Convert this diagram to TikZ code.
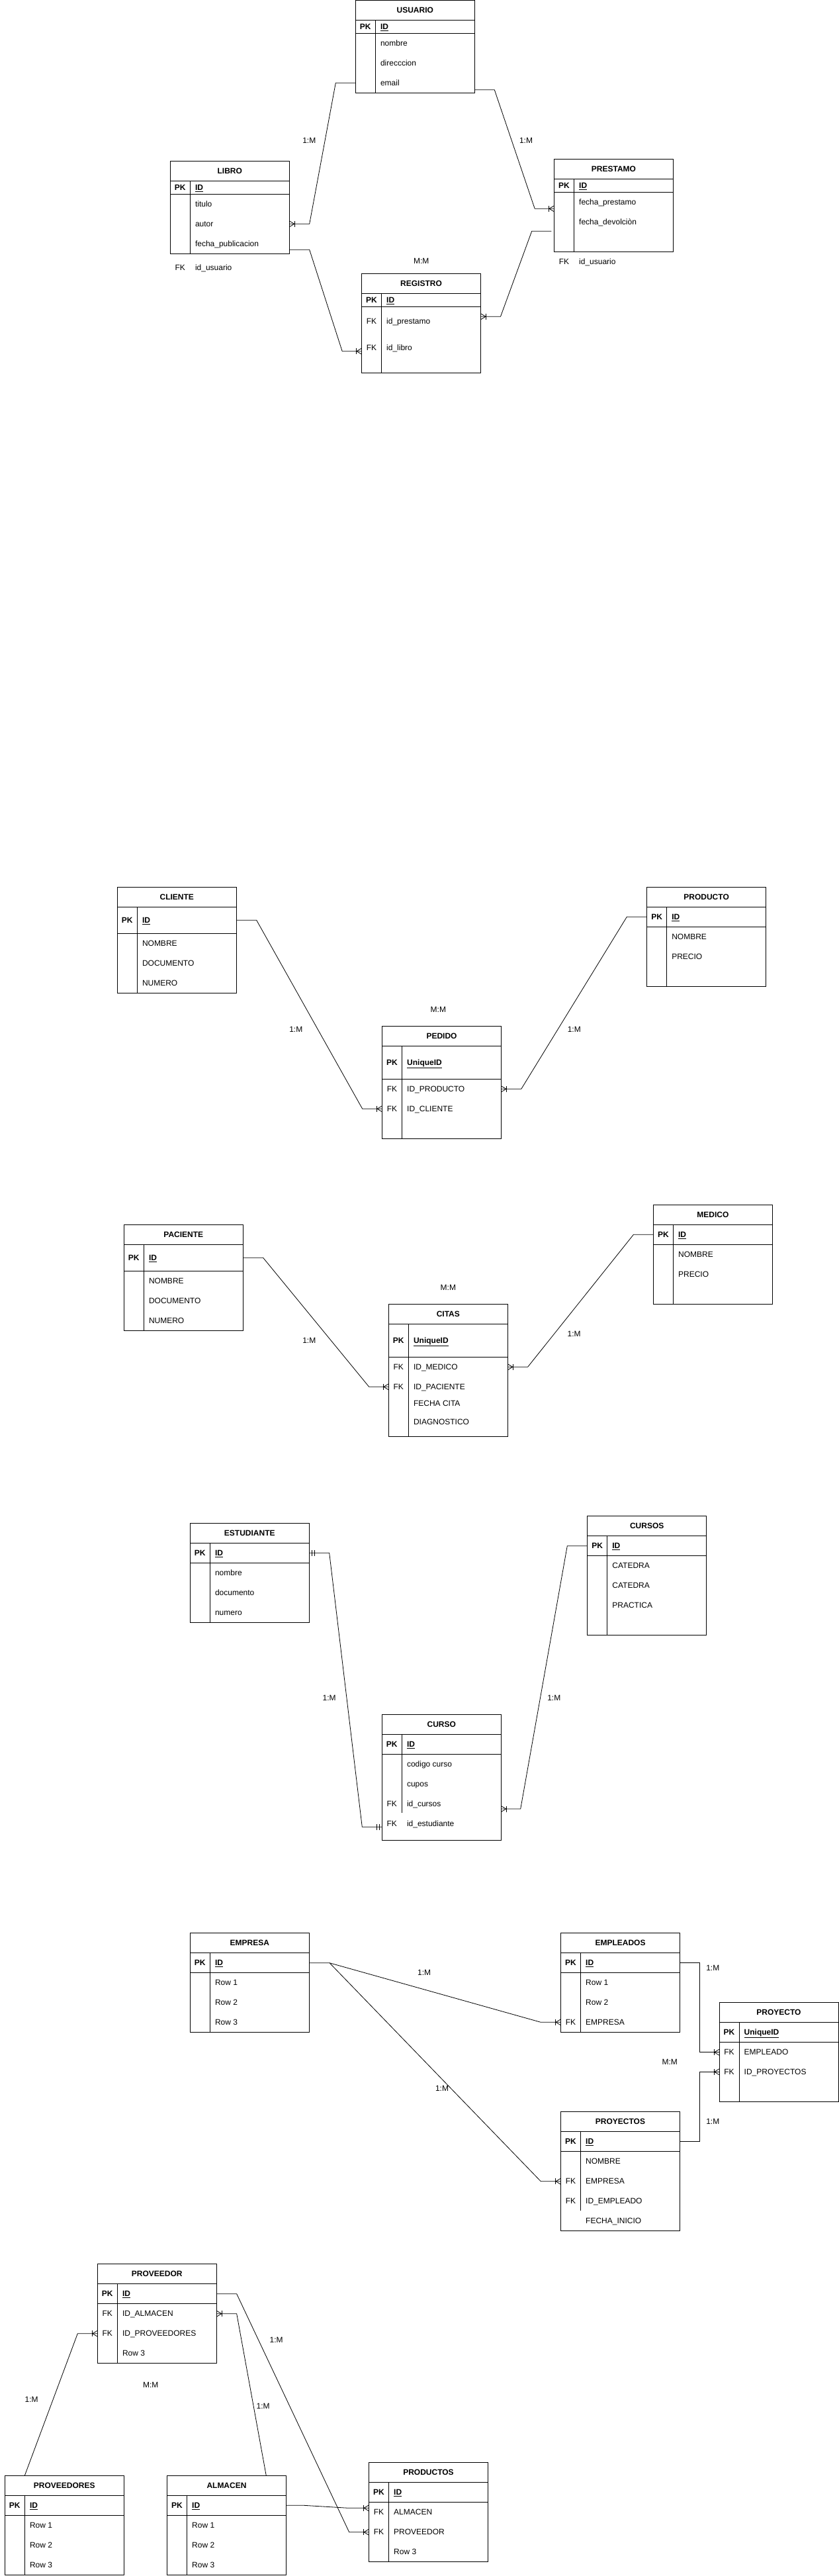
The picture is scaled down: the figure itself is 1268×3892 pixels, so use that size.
\documentclass[tikz,border=0pt]{standalone}
\usepackage{fontspec}
\setmainfont{Liberation Sans}
\newcounter{fc}
\newcommand{\ertab}[7]{%
  \node[tbox, minimum height=#4pt, anchor=north west] (#1) at (#2,#3) {};
  \draw[tline] (#2,#3+30) -- ++(180,0);
  \draw[tline] (#2,#3+30+#6) -- ++(180,0);
  \draw[tline] (#2+30,#3+30) -- (#2+30,#3+#7);
  \node[ttl] (#1-title) at (#2+90,#3+15) {#5};
}
\newcommand{\errow}[4]{%
  \stepcounter{fc}%
  \node[pkt] (k\arabic{fc}) at (#1+15,#2) {#3};
  \node[fld] (f\arabic{fc}) at (#1+37.5,#2) {#4};
}
\newcommand{\pkrow}[3]{\errow{#1}{#2}{\textbf{PK}}{\textbf{\underline{#3}}}}
\begin{document}
\begin{tikzpicture}[x=1pt,y=-1pt,
  tbox/.style={draw, line width=1pt, minimum width=180pt, inner sep=0pt, outer sep=0pt},
  tline/.style={line width=1pt},
  conn/.style={line width=0.8pt},
  txt/.style={inner sep=0pt, text height=8.6pt, text depth=0pt, font=\fontsize{12pt}{14pt}\selectfont},
  fld/.style={txt, anchor=west},
  pkt/.style={txt, anchor=center},
  lbl/.style={txt, anchor=center},
  ttl/.style={txt, anchor=center, font=\fontsize{12pt}{14pt}\selectfont\bfseries},
  crowL/.pic={\draw[conn] (0,-4.5) -- (7.5,0) -- (0,4.5); \draw[conn] (8,-4.5) -- (8,4.5);},
  crowR/.pic={\draw[conn] (0,-4.5) -- (-7.5,0) -- (0,4.5); \draw[conn] (-8,-4.5) -- (-8,4.5);},
  oneL/.pic={\draw[conn] (4,-4.5) -- (4,4.5); \draw[conn] (8,-4.5) -- (8,4.5);},
  oneR/.pic={\draw[conn] (-4,-4.5) -- (-4,4.5); \draw[conn] (-8,-4.5) -- (-8,4.5);}
]
\fill[white] (0,0) rectangle (1268,3892);
\useasboundingbox (0,0) rectangle (1268,3892);

% ================= Section 1 =================
\ertab{usuario}{537.3}{0.5}{140}{USUARIO}{20}{140}
\pkrow{537.3}{40.3}{ID}
\errow{537.3}{65.3}{}{nombre}
\errow{537.3}{95.3}{}{direcccion}
\errow{537.3}{125.3}{}{email}

\ertab{libro}{257.3}{243.3}{140}{LIBRO}{20}{140}
\pkrow{257.3}{283.3}{ID}
\errow{257.3}{308.3}{}{titulo}
\errow{257.3}{338.3}{}{autor}
\errow{257.3}{368.3}{}{fecha\_publicacion}
\errow{257.3}{404.3}{FK}{id\_usuario}

\ertab{prestamo}{837.5}{240.3}{140}{PRESTAMO}{20}{140}
\pkrow{837.5}{280.3}{ID}
\errow{837.5}{305.3}{}{fecha\_prestamo}
\errow{837.5}{335.3}{}{fecha\_devolciòn}
\errow{837.5}{394.7}{FK}{id\_usuario}

\ertab{registro}{546.5}{413.3}{150}{REGISTRO}{20}{150}
\pkrow{546.5}{453.3}{ID}
\errow{546.5}{485}{FK}{id\_prestamo}
\errow{546.5}{525}{FK}{id\_libro}

\node[lbl] (l1) at (467.3,212.3) {1:M};
\node[lbl] (l2) at (795,212.3) {1:M};
\node[lbl] (l3) at (636.7,394) {M:M};

\draw[conn] (usuario.west |- 0,125.3) -- (507.3,125.3) -- (467.7,338.3) -- (libro.east |- 0,338.3);
\pic at (libro.east |- 0,338.3) {crowL};
\draw[conn] (usuario.east |- 0,135.7) -- (747.3,135.7) -- (808.2,315.3) -- (prestamo.west |- 0,315.3);
\pic at (prestamo.west |- 0,315.3) {crowR};
\coordinate (c3) at (833.3,349.3);
\draw[conn] (c3) -- (803.7,349.3) -- (756.5,478.3) -- (registro.east |- 0,478.3);
\pic at (registro.east |- 0,478.3) {crowL};
\draw[conn] (libro.east |- 0,377.3) -- (467.7,377.3) -- (517.2,530.7) -- (registro.west |- 0,530.7);
\pic at (registro.west |- 0,530.7) {crowR};

% ================= Section 2 =================
\ertab{cliente}{177.3}{1340.3}{160}{CLIENTE}{40}{160}
\pkrow{177.3}{1390.3}{ID}
\errow{177.3}{1425.3}{}{NOMBRE}
\errow{177.3}{1455.3}{}{DOCUMENTO}
\errow{177.3}{1485.3}{}{NUMERO}

\ertab{pedido}{577.5}{1550}{170}{PEDIDO}{50}{170}
\pkrow{577.5}{1605.3}{UniqueID}
\errow{577.5}{1645.3}{FK}{ID\_PRODUCTO}
\errow{577.5}{1675.3}{FK}{ID\_CLIENTE}

\ertab{producto}{977.6}{1340.3}{150}{PRODUCTO}{30}{150}
\pkrow{977.6}{1385.3}{ID}
\errow{977.6}{1415.3}{}{NOMBRE}
\errow{977.6}{1445.3}{}{PRECIO}

\node[lbl] (l4) at (662.4,1525) {M:M};
\node[lbl] (l5) at (447.3,1555) {1:M};
\node[lbl] (l6) at (867.8,1555) {1:M};

\draw[conn] (cliente.east |- 0,1390.3) -- (387.7,1390.3) -- (547.7,1675.3) -- (pedido.west |- 0,1675.3);
\pic at (pedido.west |- 0,1675.3) {crowR};
\draw[conn] (producto.west |- 0,1385.3) -- (947.3,1385.3) -- (787.8,1645.3) -- (pedido.east |- 0,1645.3);
\pic at (pedido.east |- 0,1645.3) {crowL};

% ================= Section 3 =================
\ertab{paciente}{187.3}{1850.3}{160}{PACIENTE}{40}{160}
\pkrow{187.3}{1900.3}{ID}
\errow{187.3}{1935.3}{}{NOMBRE}
\errow{187.3}{1965.3}{}{DOCUMENTO}
\errow{187.3}{1995.3}{}{NUMERO}

\ertab{citas}{587.3}{1970.3}{200}{CITAS}{50}{200}
\pkrow{587.3}{2025.3}{UniqueID}
\errow{587.3}{2065.3}{FK}{ID\_MEDICO}
\errow{587.3}{2095.3}{FK}{ID\_PACIENTE}
\errow{587.3}{2120.3}{}{FECHA CITA}
\errow{587.3}{2148}{}{DIAGNOSTICO}

\ertab{medico}{987.4}{1820.3}{150}{MEDICO}{30}{150}
\pkrow{987.4}{1865.3}{ID}
\errow{987.4}{1895.3}{}{NOMBRE}
\errow{987.4}{1925.3}{}{PRECIO}

\node[lbl] (l7) at (677.4,1945) {M:M};
\node[lbl] (l8) at (467.3,2025) {1:M};
\node[lbl] (l9) at (867.6,2015) {1:M};

\draw[conn] (paciente.east |- 0,1900.3) -- (397.7,1900.3) -- (557.7,2095.3) -- (citas.west |- 0,2095.3);
\pic at (citas.west |- 0,2095.3) {crowR};
\draw[conn] (medico.west |- 0,1865.3) -- (957.4,1865.3) -- (797.6,2065.3) -- (citas.east |- 0,2065.3);
\pic at (citas.east |- 0,2065.3) {crowL};

% ================= Section 4 =================
\ertab{estudiante}{287.3}{2301.3}{150}{ESTUDIANTE}{30}{150}
\pkrow{287.3}{2346.3}{ID}
\errow{287.3}{2376.3}{}{nombre}
\errow{287.3}{2406.3}{}{documento}
\errow{287.3}{2436.3}{}{numero}

\ertab{curso}{577.3}{2590.3}{190}{CURSO}{30}{149}
\pkrow{577.3}{2635.3}{ID}
\errow{577.3}{2665.3}{}{codigo curso}
\errow{577.3}{2695.3}{}{cupos}
\errow{577.3}{2725.3}{FK}{id\_cursos}
\errow{577.3}{2755.3}{FK}{id\_estudiante}

\ertab{cursos}{887.7}{2290.3}{180}{CURSOS}{30}{180}
\pkrow{887.7}{2335.3}{ID}
\errow{887.7}{2365.3}{}{CATEDRA}
\errow{887.7}{2395.3}{}{CATEDRA}
\errow{887.7}{2425.3}{}{PRACTICA}

\node[lbl] (l10) at (497.7,2565) {1:M};
\node[lbl] (l11) at (837.3,2565) {1:M};

\draw[conn] (estudiante.east |- 0,2346.3) -- (497.7,2346.3) -- (547.3,2760.3) -- (curso.west |- 0,2760.3);
\pic at (estudiante.east |- 0,2346.3) {oneL};
\pic at (curso.west |- 0,2760.3) {oneR};
\draw[conn] (cursos.west |- 0,2335.7) -- (857.3,2335.7) -- (786.7,2733) -- (curso.east |- 0,2733);
\pic at (curso.east |- 0,2733) {crowL};

% ================= Section 5 =================
\ertab{empresa}{287.3}{2920.3}{150}{EMPRESA}{30}{150}
\pkrow{287.3}{2965.3}{ID}
\errow{287.3}{2995.3}{}{Row 1}
\errow{287.3}{3025.3}{}{Row 2}
\errow{287.3}{3055.3}{}{Row 3}

\ertab{empleados}{847.5}{2920.3}{150}{EMPLEADOS}{30}{150}
\pkrow{847.5}{2965.3}{ID}
\errow{847.5}{2995.3}{}{Row 1}
\errow{847.5}{3025.3}{}{Row 2}
\errow{847.5}{3055.3}{FK}{EMPRESA}

\ertab{proyecto}{1087}{3025.3}{150}{PROYECTO}{30}{150}
\pkrow{1087}{3070.3}{UniqueID}
\errow{1087}{3100.3}{FK}{EMPLEADO}
\errow{1087}{3130.3}{FK}{ID\_PROYECTOS}

\ertab{proyectos}{847.5}{3190.3}{180}{PROYECTOS}{30}{150}
\pkrow{847.5}{3235.3}{ID}
\errow{847.5}{3265.3}{}{NOMBRE}
\errow{847.5}{3295.3}{FK}{EMPRESA}
\errow{847.5}{3325.3}{FK}{ID\_EMPLEADO}
\errow{847.5}{3355.3}{}{FECHA\_INICIO}

\node[lbl] (l12) at (641.2,2980) {1:M};
\node[lbl] (l13) at (668,3155) {1:M};
\node[lbl] (l14) at (1077.3,2972.7) {1:M};
\node[lbl] (l15) at (1012.3,3115) {M:M};
\node[lbl] (l16) at (1077.3,3205) {1:M};

\coordinate (eb) at (498.1,2965.7);
\draw[conn] (empresa.east |- 0,2965.7) -- (eb) -- (817.3,3055.3) -- (empleados.west |- 0,3055.3);
\pic at (empleados.west |- 0,3055.3) {crowR};
\draw[conn] (eb) -- (817.3,3295.7) -- (proyectos.west |- 0,3295.7);
\pic at (proyectos.west |- 0,3295.7) {crowR};
\draw[conn] (empleados.east |- 0,2965.7) -- (1057.3,2965.7) -- (1057.3,3100.7) -- (proyecto.west |- 0,3100.7);
\pic at (proyecto.west |- 0,3100.7) {crowR};
\draw[conn] (proyectos.east |- 0,3235.3) -- (1057.3,3235.3) -- (1057.3,3130.3) -- (proyecto.west |- 0,3130.3);
\pic at (proyecto.west |- 0,3130.3) {crowR};

% ================= Section 6 =================
\ertab{proveedor}{147.3}{3420.3}{150}{PROVEEDOR}{30}{150}
\pkrow{147.3}{3465.3}{ID}
\errow{147.3}{3495.3}{FK}{ID\_ALMACEN}
\errow{147.3}{3525.3}{FK}{ID\_PROVEEDORES}
\errow{147.3}{3555.3}{}{Row 3}

\ertab{proveedores}{7.3}{3740.3}{150}{PROVEEDORES}{30}{150}
\pkrow{7.3}{3785.3}{ID}
\errow{7.3}{3815.3}{}{Row 1}
\errow{7.3}{3845.3}{}{Row 2}
\errow{7.3}{3875.3}{}{Row 3}

\ertab{almacen}{252.5}{3740.3}{150}{ALMACEN}{30}{150}
\pkrow{252.5}{3785.3}{ID}
\errow{252.5}{3815.3}{}{Row 1}
\errow{252.5}{3845.3}{}{Row 2}
\errow{252.5}{3875.3}{}{Row 3}

\ertab{productos}{557.5}{3720.3}{150}{PRODUCTOS}{30}{150}
\pkrow{557.5}{3765.3}{ID}
\errow{557.5}{3795.3}{FK}{ALMACEN}
\errow{557.5}{3825.3}{FK}{PROVEEDOR}
\errow{557.5}{3855.3}{}{Row 3}

\node[lbl] (l17) at (47.7,3625) {1:M};
\node[lbl] (l18) at (397.7,3635) {1:M};
\node[lbl] (l19) at (417.7,3535) {1:M};
\node[lbl] (l20) at (227.7,3602.7) {M:M};

\draw[conn] (37.3,0 |- proveedores.north) -- (117.3,3525.7) -- (proveedor.west |- 0,3525.7);
\pic at (proveedor.west |- 0,3525.7) {crowR};
\draw[conn] (402.3,0 |- almacen.north) -- (357.7,3495.7) -- (proveedor.east |- 0,3495.7);
\pic at (proveedor.east |- 0,3495.7) {crowL};
\draw[conn] (proveedor.east |- 0,3465.7) -- (357.7,3465.7) -- (527.7,3825.7) -- (productos.west |- 0,3825.7);
\pic at (productos.west |- 0,3825.7) {crowR};
\draw[conn] (almacen.east |- 0,3785.3) -- (460,3785.3) -- (526.7,3789.3) -- (productos.west |- 0,3789.3);
\pic at (productos.west |- 0,3789.3) {crowR};
\end{tikzpicture}
\end{document}
